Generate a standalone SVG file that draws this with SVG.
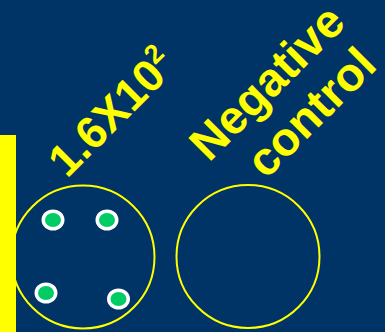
<svg xmlns="http://www.w3.org/2000/svg" width="385" height="332" viewBox="0 0 385 332">
<style>
.t{font-family:"Liberation Sans",Arial,sans-serif;font-weight:bold;fill:#ffff00}
.dish{fill:none;stroke:#ffff00;stroke-width:2}
.colony-o{fill:#ffffff}
.colony-i{fill:#00cc66}
</style>
<rect width="385" height="332" fill="#003366"/>
<rect x="0" y="135" width="16" height="197" fill="#ffff00"/>
<g id="label-dilution">
<text class="t" font-size="45" transform="translate(67,179) rotate(-45)">1.6X10<tspan font-size="27" dy="-18">2</tspan></text>
</g>
<g id="label-negative">
<text class="t" font-size="47" transform="translate(209,163) rotate(-45)">Negative</text>
<text class="t" font-size="47" transform="translate(266,180) rotate(-45)">control</text>
</g>
<g id="dish-1">
<circle class="dish" cx="83" cy="257" r="71.5"/>
<g id="colonies">
<ellipse class="colony-o" cx="53" cy="220" rx="11.5" ry="10.5"/>
<ellipse class="colony-i" cx="53" cy="220" rx="8" ry="7"/>
<ellipse class="colony-o" cx="107" cy="220" rx="11.5" ry="10.5"/>
<ellipse class="colony-i" cx="107" cy="220" rx="8" ry="7"/>
<ellipse class="colony-o" cx="46" cy="293" rx="11.5" ry="10.5"/>
<ellipse class="colony-i" cx="46" cy="293" rx="8" ry="7"/>
<ellipse class="colony-o" cx="118.5" cy="299" rx="11.5" ry="10.5"/>
<ellipse class="colony-i" cx="118.5" cy="299" rx="8" ry="7"/>
</g>
</g>
<g id="dish-2">
<circle class="dish" cx="248" cy="256.5" r="71.5"/>
</g>
</svg>
